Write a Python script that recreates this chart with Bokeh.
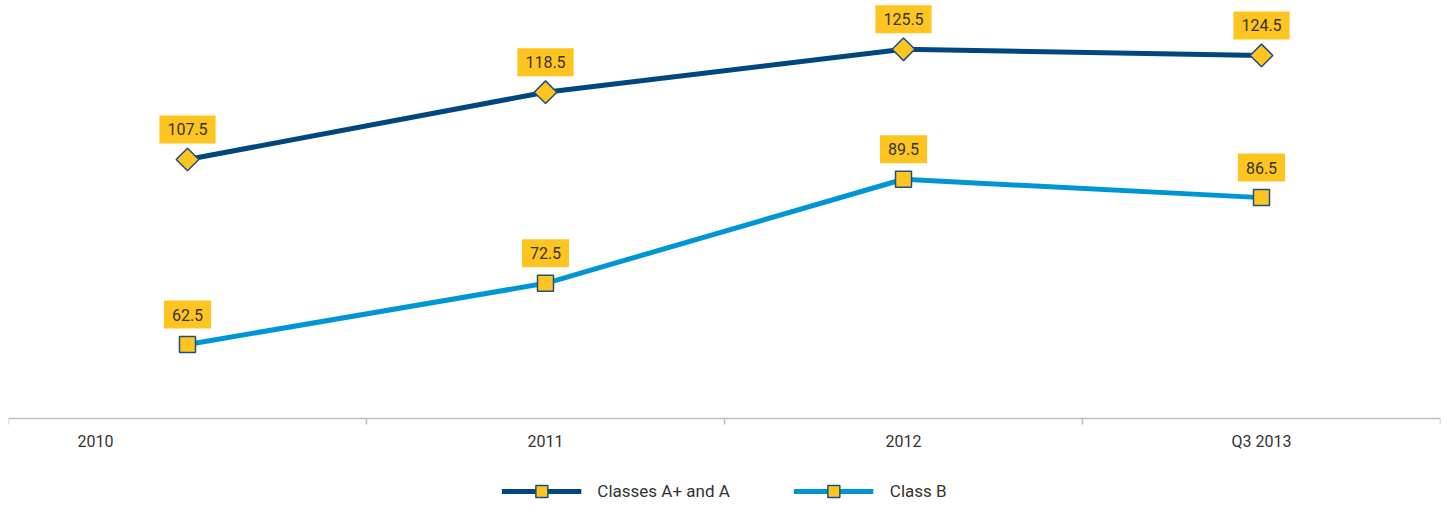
import math
from bokeh.plotting import figure
from bokeh.models import (FactorRange, Range1d, LinearAxis, FixedTicker,
                          Legend, LegendItem)
from bokeh.core.properties import value
from bokeh.embed import file_html
from bokeh.resources import INLINE

# ---- data ----
categories = ["2010", "2011", "2012", "Q3 2013"]
class_a = [107.5, 118.5, 125.5, 124.5]
class_b = [62.5, 72.5, 89.5, 86.5]
series_names = ["Classes A+ and A", "Class B"]

# ---- style ----
FONT = "Roboto"
NAVY = "#00477f"
BLUE = "#0096d6"
YELLOW = "#fec520"
MARK_LINE = "#1f4f7f"
TEXT = "#333333"
AXIS = "#bfbfbf"
BASELINE = 65.18          # value (class A scale) where the category axis sits

p = figure(width=1451, height=506, x_range=FactorRange(*categories),
           y_range=Range1d(50.80, 133.48),
           x_axis_location=None, y_axis_location=None,
           output_backend="svg", toolbar_location=None,
           min_border_left=8, min_border_right=11, min_border_top=0, min_border_bottom=0)
p.extra_y_ranges = {"b": Range1d(36.03, 118.71)}
p.grid.visible = False
p.outline_line_color = None
p.background_fill_color = "white"
p.border_fill_color = "white"

# axis line with ticks on the category boundaries (synthetic coords 0..n)
ticks = list(range(len(categories) + 1))
edge_axis = LinearAxis(ticker=FixedTicker(ticks=ticks), fixed_location=BASELINE,
                       major_label_overrides={t: "" for t in ticks},
                       axis_line_color=AXIS, axis_line_width=1.5,
                       major_tick_line_color=AXIS, major_tick_line_width=1.5,
                       major_tick_in=6, major_tick_out=0,
                       minor_tick_line_color=None,
                       major_label_text_font_size="1px", major_label_text_color=None,
                       major_label_standoff=0)
p.add_layout(edge_axis, "above")

la = p.line(categories, class_a, line_width=5, color=NAVY)
sa = p.scatter(categories, class_a, marker="square", angle=math.pi / 4, size=16,
               fill_color=YELLOW, line_color=MARK_LINE, line_width=1.5)
lb = p.line(categories, class_b, line_width=5, color=BLUE, y_range_name="b")
sb = p.scatter(categories, class_b, marker="square", size=16, fill_color=YELLOW,
               line_color=MARK_LINE, line_width=1.5, y_range_name="b")

p.text(x=categories, y=class_a, text=[f"{v:.1f}" for v in class_a], y_offset=-30,
       text_align="center", text_baseline="middle", text_font=value(FONT),
       text_font_size="16px", text_color=TEXT, background_fill_color=YELLOW,
       padding=(8, 8))
p.text(x=categories, y=class_b, text=[f"{v:.1f}" for v in class_b], y_offset=-30,
       text_align="center", text_baseline="middle", text_font=value(FONT),
       text_font_size="16px", text_color=TEXT, background_fill_color=YELLOW,
       padding=(8, 8), y_range_name="b")

# category labels just under the axis line
p.text(x=categories, y=[BASELINE] * len(categories), text=categories,
       x_offset=[-92, 0, 0, 0], y_offset=23,
       text_align="center", text_baseline="middle", text_font=value(FONT),
       text_font_size="16px", text_color=TEXT)

legend = Legend(items=[LegendItem(label=series_names[0], renderers=[la, sa]),
                       LegendItem(label=series_names[1], renderers=[lb, sb])],
                orientation="horizontal", location="bottom_center",
                glyph_width=80, glyph_height=30, label_standoff=16, spacing=64,
                label_text_font=FONT, label_text_font_size="17px", label_text_color=TEXT,
                border_line_color=None, background_fill_alpha=0, padding=0, margin=0)
p.add_layout(legend)

open("out.html", "w").write(file_html(p, INLINE))
